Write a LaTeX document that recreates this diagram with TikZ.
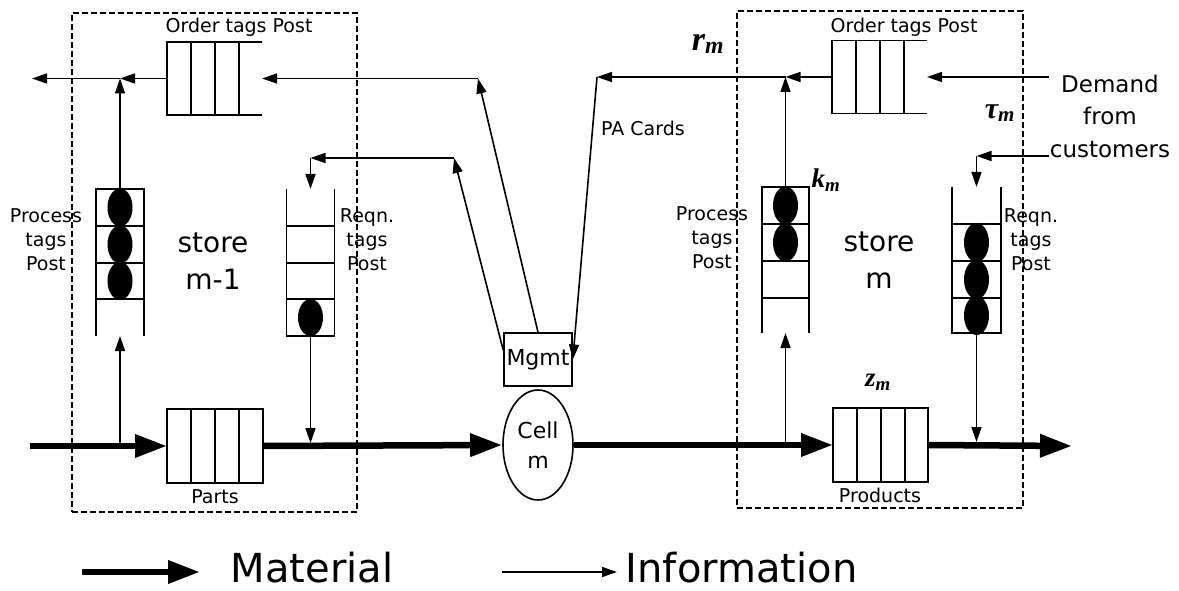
\documentclass[tikz,border=0pt]{standalone}
\usepackage{fontspec}
\setmainfont{DejaVu Sans}
\newfontfamily\symfont{Liberation Serif}
\usepackage{tikz}
\usetikzlibrary{arrows.meta,positioning,calc,shapes.geometric}

\begin{document}
\begin{tikzpicture}[x=1pt, y=-1pt, line width=1.6pt,
    info/.style={-{Triangle[length=15pt,width=10pt]}, line width=1.6pt},
    material/.style={-{Triangle[length=32pt,width=22pt]}, line width=6.5pt},
    storebox/.style={draw, dash pattern=on 6pt off 3pt, line width=1.5pt, inner sep=0pt},
    queue/.style={inner sep=0pt, outer sep=0pt},
    lbl/.style={font=\fontsize{19}{24}\selectfont, align=center, inner sep=1pt},
    big/.style={font=\fontsize{28}{37}\selectfont, align=center, inner sep=0pt},
    sym/.style={font=\symfont\bfseries\itshape\fontsize{27}{30}\selectfont, inner sep=0pt},
    legend/.style={font=\fontsize{40}{48}\selectfont, anchor=west, inner sep=0pt}]
  \useasboundingbox (0,0) rectangle (1179,591);

  % Store m-1: dashed frame, posts and parts buffer.
  \node[storebox, minimum width=285pt, minimum height=499pt] (boxA) at (214.5,262.5) {};
  \node[queue, minimum width=95pt, minimum height=73pt] (ordA) at (214.5,78.5) {};
  \draw (ordA.north east) -- (ordA.north west) -- (ordA.south west) -- (ordA.south east);
  \foreach \d in {24,48,72} \draw ([xshift=\d pt]ordA.north west) -- ([xshift=\d pt]ordA.south west);
  \node[lbl] (ordAlbl) at (239,27) {Order tags Post};

  \node[queue, minimum width=48pt, minimum height=147pt] (procA) at (120,262.5) {};
  \draw (procA.south west) -- (procA.north west) -- (procA.north east) -- (procA.south east);
  \foreach \d in {37,74,110} \draw ([yshift=-\d pt]procA.north west) -- ([yshift=-\d pt]procA.north east);
  \foreach \d in {18.5,55.5,92} \fill ([yshift=-\d pt]procA.north) ellipse (12.5pt and 19pt);
  \node[lbl] (procAlbl) at (46,240) {Process\\tags\\Post};

  \node[queue, minimum width=48pt, minimum height=147pt] (reqA) at (310.5,262.5) {};
  \draw (reqA.north west) -- (reqA.south west) -- (reqA.south east) -- (reqA.north east);
  \foreach \d in {37,74,110} \draw ([yshift=-\d pt]reqA.north west) -- ([yshift=-\d pt]reqA.north east);
  \fill ([yshift=-128.5pt]reqA.north) ellipse (12.5pt and 18.5pt);
  \node[lbl] (reqAlbl) at (367,240) {Reqn.\\tags\\Post};

  \node[big] (storeA) at (213,261) {store\\m-1};

  \node[draw, queue, minimum width=96pt, minimum height=74pt] (partA) at (215,446) {};
  \foreach \d in {24,48,72} \draw ([xshift=\d pt]partA.north west) -- ([xshift=\d pt]partA.south west);
  \node[lbl] (partAlbl) at (215,497) {Parts};

  % Cell m with its management box.
  \node[draw, minimum width=68pt, minimum height=53pt, inner sep=0pt,
        font=\fontsize{22}{26}\selectfont] (mgmt) at (538,359.5) {Mgmt};
  \node[draw, ellipse, minimum width=70pt, minimum height=110pt, inner sep=0pt, align=center,
        font=\fontsize{22}{30}\selectfont] (cell) at (538,445) {Cell\\m};

  % Store m: dashed frame, posts and products buffer.
  \node[storebox, minimum width=286pt, minimum height=497pt] (boxB) at (880,259.5) {};
  \node[queue, minimum width=95pt, minimum height=73pt] (ordB) at (879.5,77) {};
  \draw (ordB.north east) -- (ordB.north west) -- (ordB.south west) -- (ordB.south east);
  \foreach \d in {24,48,72} \draw ([xshift=\d pt]ordB.north west) -- ([xshift=\d pt]ordB.south west);
  \node[lbl] (ordBlbl) at (904,27) {Order tags Post};

  \node[queue, minimum width=47pt, minimum height=146pt] (procB) at (785.5,260) {};
  \draw (procB.south west) -- (procB.north west) -- (procB.north east) -- (procB.south east);
  \foreach \d in {37,74,111} \draw ([yshift=-\d pt]procB.north west) -- ([yshift=-\d pt]procB.north east);
  \foreach \d in {18.5,55.5} \fill ([yshift=-\d pt]procB.north) ellipse (12.5pt and 19pt);
  \node[lbl] (procBlbl) at (712,238) {Process\\tags\\Post};

  \node[queue, minimum width=49pt, minimum height=146pt] (reqB) at (976.5,260) {};
  \draw (reqB.north west) -- (reqB.south west) -- (reqB.south east) -- (reqB.north east);
  \foreach \d in {37,74,111} \draw ([yshift=-\d pt]reqB.north west) -- ([yshift=-\d pt]reqB.north east);
  \foreach \d in {55.5,92.5,128.5} \fill ([yshift=-\d pt]reqB.north) ellipse (12.5pt and 19.5pt);
  \node[lbl] (reqBlbl) at (1031,240) {Reqn.\\tags\\Post};

  \node[big] (storeB) at (879,260) {store\\m};

  \node[draw, queue, minimum width=95pt, minimum height=74pt] (prodB) at (880.5,445) {};
  \foreach \d in {24,48,72} \draw ([xshift=\d pt]prodB.north west) -- ([xshift=\d pt]prodB.south west);
  \node[lbl] (prodBlbl) at (880,495) {Products};

  \node[font=\fontsize{23}{32.5}\selectfont, align=center, inner sep=0pt] (demand) at (1110,116)
    {Demand\\from\\customers};

  % Symbols.
  \node[sym, font=\symfont\bfseries\itshape\fontsize{34}{38}\selectfont] (rm) at (708,44) {r\textsubscript{m}};
  \node[sym] (km) at (826,180) {k\textsubscript{m}};
  \node[sym, font=\symfont\bfseries\itshape\fontsize{30}{34}\selectfont] (tm) at (1000,113) {τ\textsubscript{m}};
  \node[sym] (zm) at (878,382) {z\textsubscript{m}};
  \node[lbl] (pa) at (643,128) {PA Cards};

  % Information flow.
  \coordinate (outA) at (32,78.5);
  \coordinate (ordTurn) at (478,78.5);
  \coordinate (reqTurn) at (454,158);
  \coordinate (paTurn) at (597,77);
  \coordinate (dmTurn) at (976.5,156);
  \draw[info] (ordA.west) -- (procA.north |- ordA.west);
  \draw[info] (procA.north |- ordA.west) -- (outA);
  \draw[info] (procA.north) -- (procA.north |- ordA.west);
  \draw[info] (mgmt.north) -- (ordTurn);
  \draw[info] (ordTurn) -- (ordA.east);
  \draw[info] (mgmt.165) -- (reqTurn);
  \draw[info] (reqTurn) -- (reqTurn -| reqA.north);
  \draw[info] (reqTurn -| reqA.north) -- (reqA.north);
  \draw[info] (ordB.west) -- (procB.north |- ordB.west);
  \draw[info] (procB.north |- ordB.west) -- (paTurn);
  \draw[info] (procB.north) -- (procB.north |- ordB.west);
  \draw[info] (paTurn) -- (mgmt.east);
  \draw[info] (demand.west |- ordB.east) -- (ordB.east);
  \draw[info] (demand.west |- dmTurn) -- (dmTurn);
  \draw[info] (dmTurn) -- (reqB.north);

  % Material flow.
  \coordinate (inA) at (30,446);
  \coordinate (outB) at (1072,446);
  \draw[material] (inA) -- (partA.west);
  \draw[info] (procA.south |- inA) -- (procA.south);
  \draw[material] (partA.east) -- (cell.west);
  \draw[info, shorten >=3pt] (reqA.south) -- (reqA.south |- partA.east);
  \draw[material] (cell.east) -- (prodB.west);
  \draw[info] (procB.south |- prodB.west) -- (procB.south);
  \draw[material] (prodB.east) -- (outB);
  \draw[info, shorten >=3pt] (reqB.south) -- (reqB.south |- prodB.east);

  % Legend.
  \coordinate (matA) at (82,572);
  \coordinate (matB) at (200,572);
  \coordinate (infA) at (502,572);
  \coordinate (infB) at (617,572);
  \draw[material] (matA) -- (matB);
  \node[legend] (matLbl) at (230,568) {Material};
  \draw[info] (infA) -- (infB);
  \node[legend] (infLbl) at (625,568) {Information};
\end{tikzpicture}
\end{document}
